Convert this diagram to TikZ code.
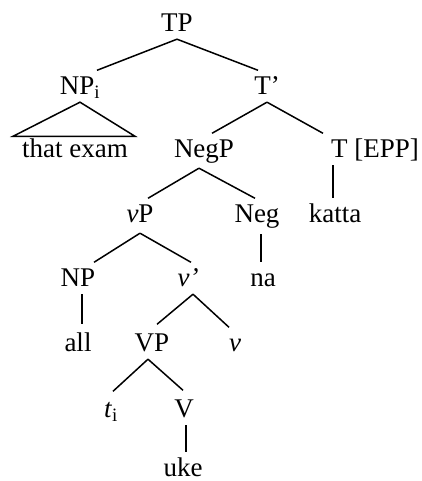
\documentclass[tikz,border=0pt]{standalone}
\usepackage{fontspec}
\setmainfont{Liberation Serif}
\usetikzlibrary{calc}
\begin{document}
\begin{tikzpicture}[x=1pt,y=1pt,
  lab/.style={anchor=base, inner xsep=0pt, inner ysep=7pt, text height=17.5pt, text depth=0pt, font=\fontsize{27}{30}\selectfont},
  br/.style={line width=1.5pt}]
\useasboundingbox (0,0) rectangle (421,481);
\node[lab] (TP) at (177,449) {TP};
\node[lab] (NPi) at (80,386) {NP\textsubscript{i}};
\node[lab] (Tp) at (267,386) {T’};
\node[lab] (exam) at (75,323) {that exam};
\node[lab] (NegP) at (204,323) {NegP};
\node[lab] (TEPP) at (375,323) {T [EPP]};
\node[lab] (katta) at (335,258) {katta};
\node[lab] (vP) at (140,258) {\textit{v}P};
\node[lab] (Neg) at (257,258) {Neg};
\node[lab] (na) at (263,194) {na};
\node[lab] (NP) at (78,194) {NP};
\node[lab] (vbar) at (188,194) {\textit{v’}};
\node[lab] (all) at (78,129) {all};
\node[lab] (VP) at (152,129) {VP};
\node[lab] (v) at (235,129) {\textit{v}};
\node[lab] (ti) at (111,63) {\textit{t}\textsubscript{i}};
\node[lab] (V) at (184,63) {V};
\node[lab] (uke) at (183,4.5) {uke};
\draw[br] (TP.south) -- ([xshift=17]NPi.north);
\draw[br] (TP.south) -- ([xshift=-9]Tp.north);
\draw[br] (NPi.south) -- ($(exam.north)+(-62,-3)$) -- ($(exam.north)+(60,-3)$) -- cycle;
\draw[br] (Tp.south) -- ([xshift=8]NegP.north);
\draw[br] (Tp.south) -- ([xshift=-52]TEPP.north);
\draw[br] ([xshift=-42]TEPP.south) -- ([xshift=-2]katta.north);
\draw[br] ([xshift=-5,yshift=-3]NegP.south) -- ([xshift=8]vP.north);
\draw[br] ([xshift=-5,yshift=-3]NegP.south) -- ([xshift=-2]Neg.north);
\draw[br] ([xshift=4,yshift=-4]Neg.south) -- ([xshift=-2]na.north);
\draw[br] ([yshift=-3]vP.south) -- ([xshift=16]NP.north);
\draw[br] ([yshift=-3]vP.south) -- ([xshift=3]vbar.north);
\draw[br] ([xshift=4]NP.south) -- ([xshift=4,yshift=3]all.north);
\draw[br] ([xshift=5]vbar.south) -- ([xshift=5,yshift=3]VP.north);
\draw[br] ([xshift=5]vbar.south) -- ([xshift=-6]v.north);
\draw[br] ([xshift=-4]VP.south) -- ([xshift=2,yshift=2]ti.north);
\draw[br] ([xshift=-4]VP.south) -- ([xshift=-1,yshift=3]V.north);
\draw[br] ([xshift=2]V.south) -- ([xshift=3]uke.north);
\end{tikzpicture}
\end{document}
